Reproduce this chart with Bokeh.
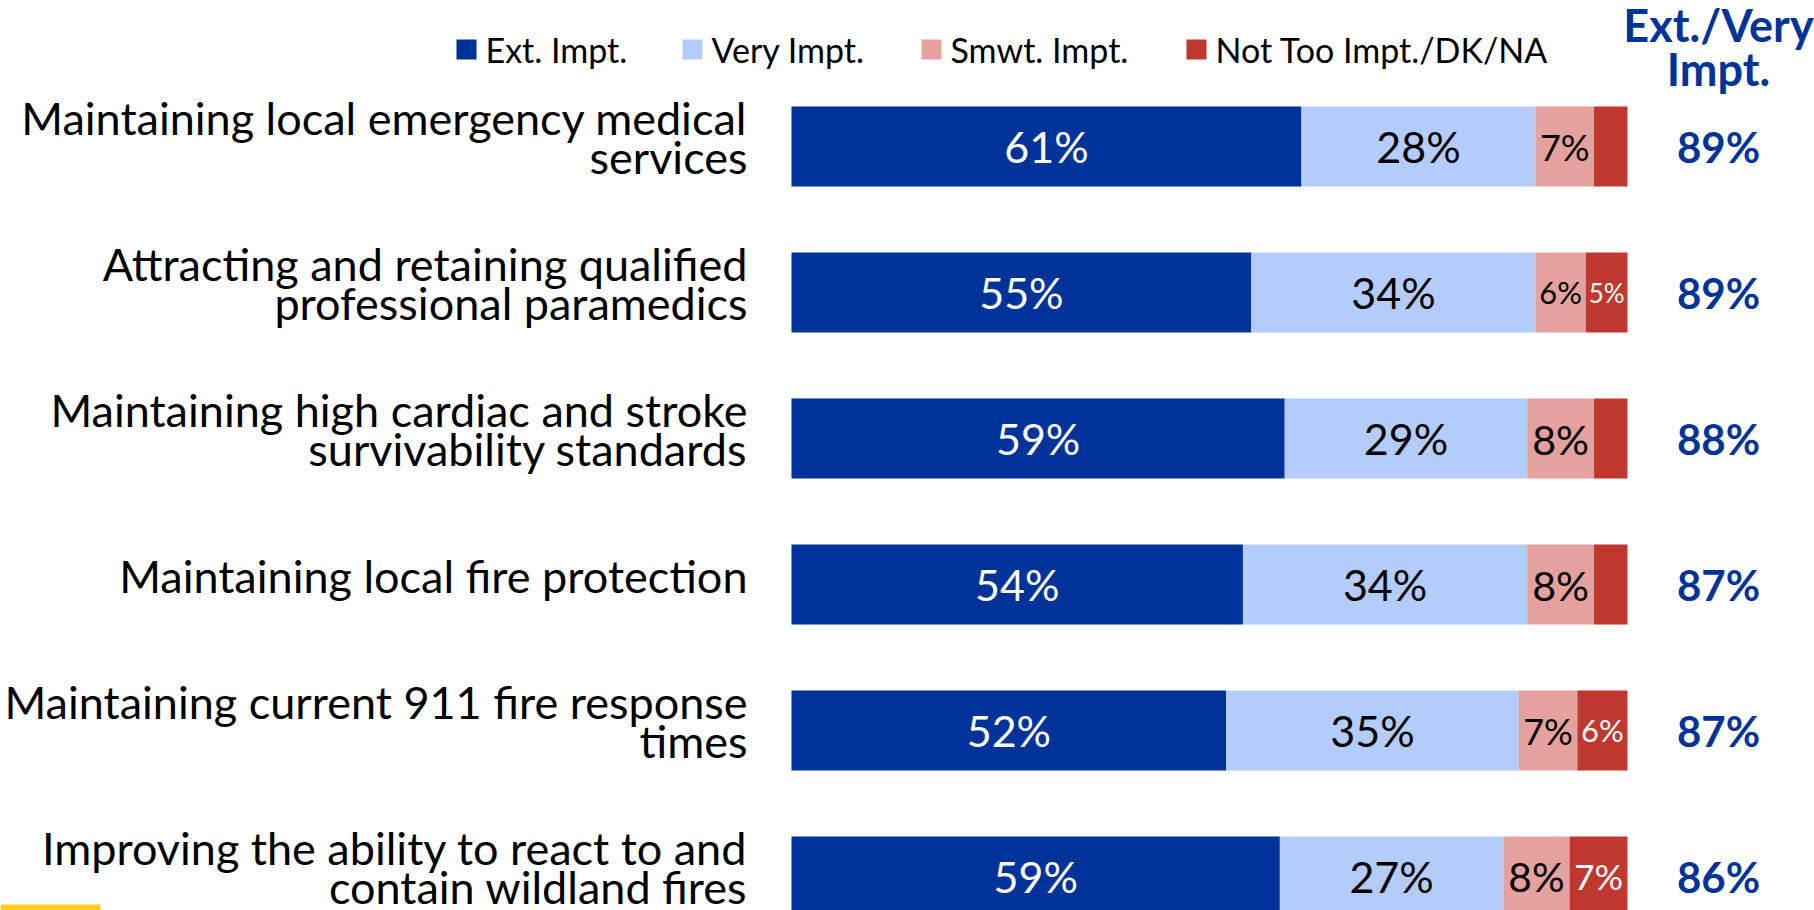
from bokeh.plotting import figure
from bokeh.models import ColumnDataSource, Range1d
from bokeh.core.properties import value
from bokeh.embed import file_html
from bokeh.resources import INLINE

# ---------------- data ----------------
categories = [
    "Maintaining local emergency medical\nservices",
    "Attracting and retaining qualified\nprofessional paramedics",
    "Maintaining high cardiac and stroke\nsurvivability standards",
    "Maintaining local fire protection",
    "Maintaining current 911 fire response\ntimes",
    "Improving the ability to react to and\ncontain wildland fires",
]
series = ["Ext. Impt.", "Very Impt.", "Smwt. Impt.", "Not Too Impt./DK/NA"]
ext_impt = [61, 55, 59, 54, 52, 59]
very_impt = [28, 34, 29, 34, 35, 27]
smwt_impt = [7, 6, 8, 8, 7, 8]
not_too = [4, 5, 4, 4, 6, 7]
ext_very = [89, 89, 88, 87, 87, 86]
header = "Ext./Very\nImpt."

# ---------------- style ----------------
colors = ["#003399", "#B4CCFA", "#E5A19D", "#C0372F"]
label_colors = ["white", "black", "black", "white"]
FONT = "Lato"
NAVY = "#003399"

W, H = 1814, 910
PX_PER_UNIT = 8.36          # pixels per percentage point
X0 = 791                    # canvas x of 0%
ROW0 = 146                  # canvas y of first row centre
PITCH = 146                 # row pitch in pixels


def X(px):
    return (px - X0) / PX_PER_UNIT


def Y(py):
    return (py - ROW0) / PITCH


p = figure(
    width=W, height=H,
    x_range=Range1d(X(0), X(W)),
    y_range=Range1d(Y(H), Y(0)),
    output_backend="svg", toolbar_location=None,
    x_axis_location=None, y_axis_location=None,
    min_border=0,
)
p.grid.visible = False
p.outline_line_color = None
p.background_fill_color = "white"
p.border_fill_color = "white"

rows = list(range(len(categories)))
series_vals = [ext_impt, very_impt, smwt_impt, not_too]
totals = [sum(v[i] for v in series_vals) for i in rows]

lefts = [0.0] * len(rows)
for k, vals in enumerate(series_vals):
    shares = [vals[i] / totals[i] * 100 for i in rows]
    rights = [lefts[i] + shares[i] for i in rows]
    mids = [(lefts[i] + rights[i]) / 2 for i in rows]
    src = ColumnDataSource(dict(y=rows, left=lefts, right=rights))
    p.hbar(y="y", left="left", right="right", height=80 / PITCH,
           fill_color=colors[k], line_color=None, source=src)
    # labels
    lx, ly, lt, ls = [], [], [], []
    for i in rows:
        if vals[i] < 5:
            continue
        seg_px = shares[i] * PX_PER_UNIT
        size = max(26, min(43, 0.85 * seg_px / 1.38))
        lx.append(mids[i]); ly.append(i); lt.append(f"{vals[i]}%"); ls.append(f"{size:.1f}px")
    lsrc = ColumnDataSource(dict(x=lx, y=ly, t=lt, s=ls))
    p.text(x="x", y="y", text="t", source=lsrc, text_align="center",
           text_baseline="middle", text_color=label_colors[k],
           text_font=value(FONT), text_font_size="s")
    lefts = rights

# category labels
p.text(x=[X(747)] * len(rows), y=[i + Y(ROW0 - 9) for i in rows], text=categories,
       text_align="right", text_baseline="middle", text_color="black",
       text_font=value(FONT), text_font_size="45px", text_line_height=0.74)

# net column
p.text(x=[X(1718)] * len(rows), y=rows, text=[f"{v}%" for v in ext_very],
       text_align="center", text_baseline="middle", text_color=NAVY,
       text_font=value(FONT), text_font_size="42px", text_font_style="bold")

# header
p.text(x=[X(1718)], y=[Y(47)], text=[header], text_align="center",
       text_baseline="middle", text_color=NAVY, text_font=value(FONT),
       text_font_size="45px", text_font_style="bold", text_line_height=0.815)

# legend
sq_left = [456, 682, 921, 1186]
LEG_Y = 49
for k, name in enumerate(series):
    p.quad(left=[X(sq_left[k])], right=[X(sq_left[k] + 20)],
           top=[Y(LEG_Y - 10)], bottom=[Y(LEG_Y + 10)], fill_color=colors[k], line_color=None)
    p.text(x=[X(sq_left[k] + 29)], y=[Y(LEG_Y)], text=[name], text_align="left",
           text_baseline="middle", text_color="black", text_font=value(FONT),
           text_font_size="34px")

# yellow accent
p.quad(left=[X(0)], right=[X(100)], top=[Y(904)], bottom=[Y(910)],
       fill_color="#FFCC1A", line_color=None)

open("out.html", "w").write(file_html(p, INLINE))
